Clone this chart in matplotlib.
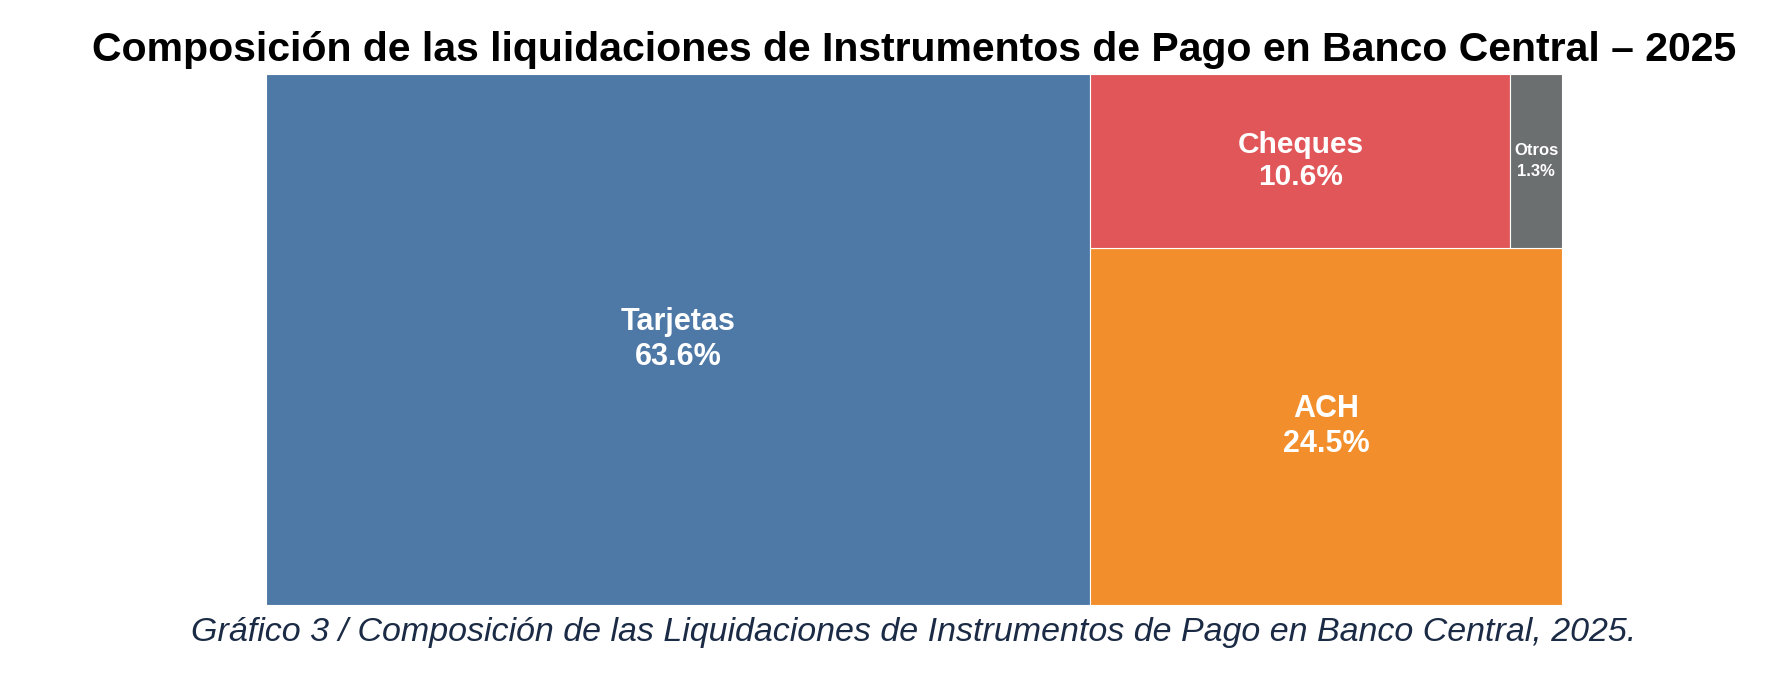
import matplotlib.pyplot as plt
from matplotlib.patches import Rectangle

plt.rcParams['font.family'] = ['Liberation Sans', 'DejaVu Sans']

categorias = ['Tarjetas', 'ACH', 'Cheques', 'Otros']
porcentajes = [63.6, 24.5, 10.6, 1.3]
colores = ['#4E79A7', '#F28E2B', '#E15759', '#6C6F70']

fig = plt.figure(figsize=(17.76, 6.76), dpi=100)
ax = fig.add_axes([266 / 1776, 1 - 605 / 676, 1296 / 1776, 531 / 676])
total = sum(porcentajes)
W, H = 1.0, 1.0

# layout: Tarjetas column, then ACH at bottom, Cheques + Otros on top
w0 = porcentajes[0] / total * W
resto = total - porcentajes[0]
h_top = (porcentajes[2] + porcentajes[3]) / resto * H
w_ch = porcentajes[2] / (porcentajes[2] + porcentajes[3]) * (W - w0)

rects = [
    (0, 0, w0, H),
    (w0, 0, W - w0, H - h_top),
    (w0, H - h_top, w_ch, h_top),
    (w0 + w_ch, H - h_top, W - w0 - w_ch, h_top),
]
tamanos = [22, 22, 21.5, 12]
interlineado = [1.2, 1.2, 1.2, 1.5]

for (x, y, w, h), cat, p, c, fs, ls in zip(rects, categorias, porcentajes, colores, tamanos, interlineado):
    ax.add_patch(Rectangle((x, y), w, h, facecolor=c, edgecolor='white', linewidth=0.8))
    ax.text(x + w / 2, y + h / 2, f'{cat}\n{p}%', ha='center', va='center',
            color='white', fontsize=fs, fontweight='bold', linespacing=ls)

ax.set_xlim(0, W)
ax.set_ylim(0, H)
ax.axis('off')

fig.text(914 / 1776, 1 - 50 / 676,
         'Composición de las liquidaciones de Instrumentos de Pago en Banco Central – 2025',
         ha='center', va='center', fontsize=29.5, fontweight='bold', color='black')
fig.text(914 / 1776, 1 - 632 / 676,
         'Gráfico 3 / Composición de las Liquidaciones de Instrumentos de Pago en Banco Central, 2025.',
         ha='center', va='center', fontsize=24.5, style='italic', color='#1B2B45')

fig.savefig('out.png', dpi=100)
